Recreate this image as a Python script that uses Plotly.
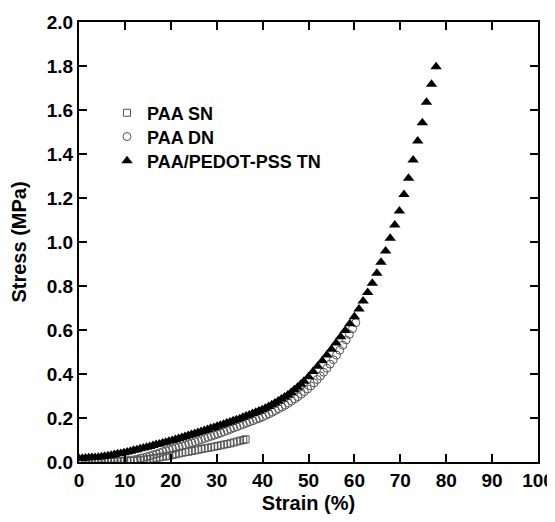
import plotly.graph_objects as go

# PAA/PEDOT-PSS TN (filled triangles)
tn_strain = [0.0, 0.7, 1.4, 2.1, 2.8, 3.5, 4.2, 4.9, 5.6, 6.3, 7.0, 7.7, 8.4, 9.1, 9.8,
             10.5, 11.2, 11.9, 12.6, 13.3, 14.0, 14.7, 15.4, 16.1, 16.8, 17.5, 18.2, 18.9,
             19.6, 20.3, 21.0, 21.7, 22.4, 23.1, 23.8, 24.5, 25.2, 25.9, 26.6, 27.3, 28.0,
             28.7, 29.4, 30.1, 30.8, 31.5, 32.2, 32.9, 33.6, 34.3, 35.0, 35.7, 36.4, 37.1,
             37.8, 38.5, 39.2, 39.9, 40.6, 41.3, 42.0, 42.7, 43.4, 44.1, 44.8, 45.5, 46.2,
             46.9, 47.6, 48.3, 49.0, 50.0, 51.0, 52.0, 53.0, 54.0, 55.0, 56.0, 57.0, 58.0,
             59.0, 60.0, 61.0, 61.9, 62.9, 63.9, 64.9, 65.8, 66.8, 67.8, 68.8, 69.8, 70.8,
             71.8, 72.8, 73.8, 74.8, 75.7, 76.8, 77.8]
tn_stress = [0.016, 0.017, 0.018, 0.019, 0.020, 0.021, 0.022, 0.024, 0.026, 0.028, 0.031,
             0.034, 0.037, 0.039, 0.042, 0.046, 0.049, 0.053, 0.056, 0.060, 0.064, 0.067,
             0.071, 0.075, 0.079, 0.082, 0.086, 0.090, 0.094, 0.098, 0.102, 0.107, 0.111,
             0.116, 0.120, 0.125, 0.129, 0.134, 0.139, 0.143, 0.148, 0.153, 0.157, 0.162,
             0.167, 0.172, 0.177, 0.182, 0.187, 0.192, 0.197, 0.203, 0.209, 0.214, 0.220,
             0.226, 0.232, 0.238, 0.244, 0.252, 0.260, 0.268, 0.277, 0.286, 0.295, 0.305,
             0.316, 0.328, 0.340, 0.353, 0.367, 0.388, 0.411, 0.435, 0.460, 0.486, 0.513,
             0.541, 0.569, 0.598, 0.628, 0.660, 0.695, 0.732, 0.771, 0.812, 0.858, 0.908,
             0.959, 1.017, 1.077, 1.141, 1.216, 1.290, 1.373, 1.459, 1.542, 1.635, 1.717,
             1.797]

# PAA DN (open circles)
dn_strain = [0.0, 0.7, 1.4, 2.1, 2.8, 3.5, 4.2, 4.9, 5.6, 6.3, 7.0, 7.7, 8.4, 9.1, 9.8,
             10.5, 11.2, 12.0, 12.7, 13.4, 14.1, 14.8, 15.5, 16.2, 16.9, 17.6, 18.3, 19.0,
             19.7, 20.4, 21.1, 21.8, 22.5, 23.2, 23.9, 24.6, 25.3, 26.0, 26.7, 27.4, 28.1,
             28.8, 29.5, 30.2, 30.9, 31.6, 32.3, 33.0, 33.7, 34.4, 35.1, 35.8, 36.5, 37.2,
             37.9, 38.6, 39.3, 40.0, 40.7, 41.4, 42.1, 42.8, 43.5, 44.2, 44.9, 45.6, 46.3,
             47.0, 47.7, 48.4, 49.1, 49.8, 50.5, 51.2, 51.9, 52.6, 53.3, 54.0, 54.7, 55.4,
             56.1, 56.8, 57.5, 58.2, 58.9, 59.6, 60.3]
dn_stress = [0.001, 0.001, 0.001, 0.001, 0.001, 0.001, 0.002, 0.002, 0.002, 0.002, 0.003,
             0.003, 0.004, 0.004, 0.005, 0.006, 0.008, 0.010, 0.013, 0.017, 0.020, 0.024,
             0.028, 0.033, 0.037, 0.042, 0.047, 0.051, 0.056, 0.060, 0.065, 0.069, 0.073,
             0.078, 0.083, 0.087, 0.092, 0.097, 0.102, 0.107, 0.112, 0.117, 0.122, 0.127,
             0.132, 0.138, 0.143, 0.149, 0.155, 0.160, 0.166, 0.171, 0.177, 0.183, 0.188,
             0.194, 0.199, 0.205, 0.212, 0.219, 0.226, 0.234, 0.242, 0.250, 0.258, 0.267,
             0.277, 0.287, 0.297, 0.308, 0.320, 0.332, 0.346, 0.360, 0.375, 0.391, 0.408,
             0.426, 0.445, 0.465, 0.486, 0.508, 0.531, 0.555, 0.580, 0.606, 0.633]

# PAA SN (open squares)
sn_strain = [0.0, 0.7, 1.4, 2.1, 2.8, 3.5, 4.2, 4.9, 5.6, 6.3, 7.0, 7.7, 8.4, 9.1, 9.8,
             10.5, 11.2, 12.0, 12.7, 13.4, 14.1, 14.8, 15.5, 16.2, 16.9, 17.6, 18.3, 19.0,
             19.7, 20.4, 21.1, 21.8, 22.5, 23.2, 23.9, 24.6, 25.3, 26.0, 26.7, 27.4, 28.1,
             28.8, 29.5, 30.2, 30.9, 31.6, 32.3, 33.0, 33.7, 34.4, 35.1, 35.8, 36.3]
sn_stress = [0.001, 0.001, 0.001, 0.001, 0.001, 0.001, 0.001, 0.001, 0.002, 0.002, 0.002,
             0.002, 0.002, 0.003, 0.003, 0.003, 0.004, 0.005, 0.007, 0.008, 0.010, 0.012,
             0.014, 0.016, 0.019, 0.021, 0.024, 0.026, 0.029, 0.032, 0.035, 0.039, 0.042,
             0.045, 0.047, 0.050, 0.053, 0.056, 0.059, 0.062, 0.064, 0.067, 0.070, 0.073,
             0.076, 0.079, 0.082, 0.085, 0.089, 0.093, 0.097, 0.100, 0.103]

series_names = ["PAA SN", "PAA DN", "PAA/PEDOT-PSS TN"]
x_ticks = [0, 10, 20, 30, 40, 50, 60, 70, 80, 90, 100]
y_ticks = [0.0, 0.2, 0.4, 0.6, 0.8, 1.0, 1.2, 1.4, 1.6, 1.8, 2.0]

FONT = "Liberation Sans, Arial, Helvetica, sans-serif"

fig = go.Figure()
fig.add_trace(go.Scatter(
    x=sn_strain, y=sn_stress, mode="markers", name=series_names[0], legend="legend",
    marker=dict(symbol="square-open", size=7, color="#555555", line=dict(width=1))))
fig.add_trace(go.Scatter(
    x=dn_strain, y=dn_stress, mode="markers", name=series_names[1], legend="legend2",
    marker=dict(symbol="circle-open", size=8, color="#555555", line=dict(width=1))))
fig.add_trace(go.Scatter(
    x=tn_strain, y=tn_stress, mode="markers", name=series_names[2], legend="legend3",
    marker=dict(symbol="triangle-up", size=10, color="black")))

axis_common = dict(
    showline=True, linecolor="black", linewidth=2, mirror="allticks",
    ticks="inside", ticklen=8, tickwidth=2, tickcolor="black",
    showgrid=False, zeroline=False, automargin=False,
    tickfont=dict(family=FONT, size=19, color="black", weight="bold"),
)

fig.update_xaxes(range=[0, 100], tickvals=x_ticks, ticktext=[str(v) for v in x_ticks],
                 title=dict(text="Strain (%)", standoff=6,
                            font=dict(family=FONT, size=20, color="black", weight="bold")),
                 **axis_common)
fig.update_yaxes(range=[0, 2.0], tickvals=y_ticks, ticktext=[f"{v:.1f}" for v in y_ticks],
                 title=dict(text="Stress (MPa)", standoff=20,
                            font=dict(family=FONT, size=20, color="black", weight="bold")),
                 **axis_common)

legend_common = dict(
    x=0.061, xanchor="left", yanchor="middle",
    bgcolor="rgba(0,0,0,0)", borderwidth=0,
    font=dict(family=FONT, size=18, color="black", weight="bold"),
    itemsizing="trace",
)

# page body has an 8px default margin, so the figure is sized to fit the window
fig.update_layout(
    width=547, height=514,
    margin=dict(l=71, r=17, t=14, b=60),
    paper_bgcolor="white", plot_bgcolor="white",
    font=dict(family=FONT, color="black"),
    showlegend=True,
    legend=dict(y=0.793, **legend_common),
    legend2=dict(y=0.739, **legend_common),
    legend3=dict(y=0.684, **legend_common),
)

fig.write_html("out.html")
